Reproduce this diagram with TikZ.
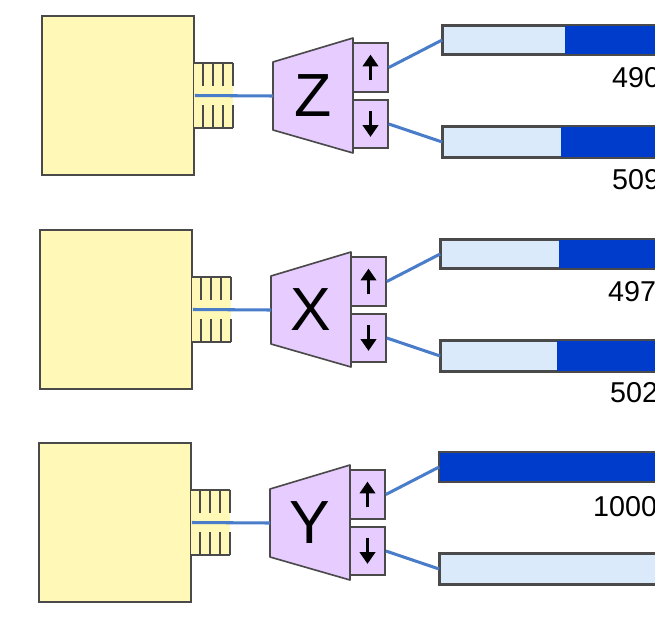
\documentclass[tikz,border=0pt]{standalone}
\usepackage{fontspec}
\setmainfont{Liberation Sans}
\usetikzlibrary{arrows.meta,fit}
\definecolor{rim}{HTML}{4A4A4A}
\definecolor{hostfill}{HTML}{FFF8B6}
\definecolor{selfill}{HTML}{E6CCFF}
\definecolor{barlo}{HTML}{DBEAFB}
\definecolor{barhi}{HTML}{003CCB}
\definecolor{wirecol}{HTML}{4A7DC9}
\tikzset{
 every node/.append style={text=black},
 host/.style={draw=rim,fill=hostfill,line width=1.5pt,inner sep=0pt},
 comb/.style={draw=rim,line width=1pt},
 selector/.style={draw=rim,fill=selfill,line width=1.4pt,line join=round},
 flag/.style={draw=rim,fill=selfill,line width=1.4pt,inner sep=0pt},
 letter/.style={font=\fontsize{52}{52}\selectfont,inner sep=0pt},
 tick/.style={-{Triangle[length=10pt,width=13pt]},draw=black,line width=2.8pt},
 bar/.style={draw=rim,fill=barlo,line width=1.5pt,inner sep=0pt},
 barrim/.style={draw=rim,line width=1.5pt},
 wire/.style={draw=wirecol,line width=2.6pt},
 count/.style={font=\fontsize{24.5}{28}\selectfont,inner sep=0pt,anchor=west},
}
\begin{document}
\begin{tikzpicture}[x=0.03cm,y=-0.03cm]
\useasboundingbox (0,0) rectangle (655,619);
\clip (0,0) rectangle (655,619);
\foreach \n/\sel/\dx/\dy/\sa/\sb in {z/Z/0/0/565/561,x/X/-2/214/561/559,y/Y/-3/427/443/720}{
 \begin{scope}[shift={(\dx,\dy)}]
 \node[host,fit={(42,16) (194,175)}] (\n-host) {};
 \fill[hostfill] (194,63) rectangle (233,128);
 \draw[comb] (194,63) -- (233,63) (194,128) -- (233,128);
 \foreach \t in {203,213,223,233} \draw[comb] (\t,63) -- (\t,86) (\t,105) -- (\t,128);
 \draw[selector] (273,62) -- (353,38) -- (353,153) -- (273,130) -- cycle;
 \coordinate (\n-in) at (273,96);
 \node[letter] (\n-sel) at (313,96) {\sel};
 \node[flag,fit={(353,43) (388,92)}] (\n-up) {};
 \node[flag,fit={(353,100) (388,148)}] (\n-dn) {};
 \draw[tick] ([yshift=-11pt]\n-up.center) -- ([yshift=11pt]\n-up.center);
 \draw[tick] ([yshift=11pt]\n-dn.center) -- ([yshift=-11pt]\n-dn.center);
 % output bars
 \node[bar,fit={(443,26) (720,54)}] (\n-a) {};
 \fill[barhi] (\sa,26) rectangle (720,54);
 \draw[barrim] (\n-a.north west) rectangle (\n-a.south east);
 \node[bar,fit={(443,127) (720,157)}] (\n-b) {};
 \fill[barhi] (\sb,127) rectangle (720,157);
 \draw[barrim] (\n-b.north west) rectangle (\n-b.south east);
 \draw[wire] (\n-host.east) -- (\n-in);
 \draw[wire] (\n-up.east) -- (\n-a.west);
 \draw[wire] (\n-dn.east) -- (\n-b.west);
 \end{scope}
}
\draw[rim,line width=2.4pt] (72,175) -- (102,175);
\node[count] (z-na) at (612,78) {490};
\node[count] (z-nb) at (612,180) {509};
\node[count] (x-na) at (608,292) {497};
\node[count] (x-nb) at (610,393) {502};
\node[count] (y-na) at (593,507) {1000};
\end{tikzpicture}
\end{document}
